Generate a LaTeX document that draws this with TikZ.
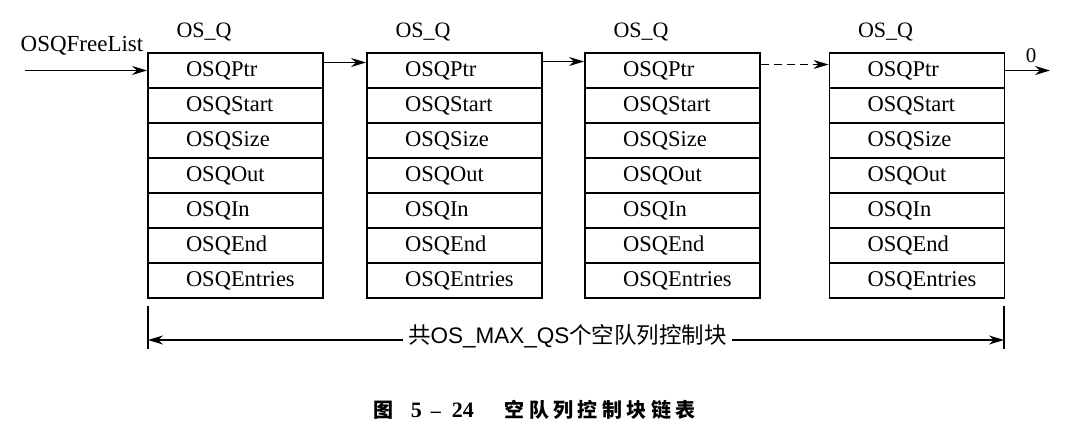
\documentclass[tikz,border=0pt]{standalone}
\usepackage{fontspec}
\setmainfont{Liberation Serif}
\newfontfamily\cjk{Noto Sans CJK SC}
\newfontfamily\lsans{Liberation Sans}
\usetikzlibrary{arrows.meta,positioning}
\tikzset{>={Stealth[length=15pt,width=9pt]}}

\begin{document}
\begin{tikzpicture}[x=1pt,y=-1pt,node distance=35pt,line width=1.6pt]
  \tikzstyle{field}=[rectangle,draw=black,line width=1.9pt,fill=white,
                     minimum width=175pt,minimum height=35pt,text width=137pt,
                     align=left,inner xsep=0pt,font=\fontsize{22.5}{24}\selectfont,
                     execute at begin node={\noindent\hspace*{19pt}}]
  \tikzstyle{lbl}=[inner sep=0pt,font=\fontsize{22}{24}\selectfont]

  \useasboundingbox (0,0) rectangle (1078,433);

  % the four OS_Q blocks
  \foreach \i/\x in {1/235.5,2/454.5,3/672.5,4/917} {
    \node[field] (q\i-ptr) at (\x,70.5) {OSQPtr};
    \node[field] (q\i-start) [below of=q\i-ptr]   {OSQStart};
    \node[field] (q\i-size)  [below of=q\i-start] {OSQSize};
    \node[field] (q\i-out)   [below of=q\i-size]  {OSQOut};
    \node[field] (q\i-in)    [below of=q\i-out]   {OSQIn};
    \node[field] (q\i-end)   [below of=q\i-in]    {OSQEnd};
    \node[field] (q\i-ent)   [below of=q\i-end]   {OSQEntries};
    \node[lbl,anchor=base] (os\i) at ([xshift=57pt,yshift=15pt]q\i-ptr.north west) {OS\_Q};
  }

  % free list head
  \coordinate (fl) at (25,70.5);
  \node[lbl,font=\fontsize{23}{25}\selectfont] (fl-lbl) at (82,46) {OSQFreeList};
  \draw[->] (fl) -- (q1-ptr.west);

  % links
  \draw[->] ([yshift=8pt]q1-ptr.east) -- ([yshift=8pt]q2-ptr.west);
  \draw[->] ([yshift=9pt]q2-ptr.east) -- ([yshift=9pt]q3-ptr.west);
  \draw[->,dash pattern=on 8pt off 5pt] ([yshift=6pt]q3-ptr.east) -- ([yshift=6pt]q4-ptr.west);
  \coordinate (nil) at (1050,70.5);
  \draw[->] (q4-ptr.east) -- (nil);
  \node[lbl,font=\fontsize{21}{22}\selectfont] (zero) at (1031,56) {0};

  % dimension line
  \coordinate (tl-top) at (148,306);
  \coordinate (tl-bot) at (148,349);
  \coordinate (tr-top) at (1004,306);
  \coordinate (tr-bot) at (1004,349);
  \coordinate (dl) at (148,340);
  \coordinate (dr) at (1004,340);
  \draw (tl-top) -- (tl-bot);
  \draw (tr-top) -- (tr-bot);
  \draw[<->] (dl) -- node[pos=0.49,fill=white,inner xsep=5pt,inner ysep=1pt,yshift=4pt,
    font=\fontsize{22.5}{24}\selectfont] (cnt)
    {{\cjk 共}{\lsans OS\_MAX\_QS}{\cjk 个空队列控制块}} (dr);

  % caption
  \node[anchor=west,inner sep=0pt,font=\fontsize{20}{22}\selectfont] (cap) at (373,410)
    {{\cjk\bfseries 图}\hspace{17pt}{\fontsize{22}{22}\selectfont\bfseries 5}\hspace{9pt}{\bfseries --}\hspace{11pt}{\fontsize{22}{22}\selectfont\bfseries 24}\hspace{31pt}{\cjk\bfseries\addfontfeatures{LetterSpace=22}空队列控制块链表}};
\end{tikzpicture}
\end{document}
